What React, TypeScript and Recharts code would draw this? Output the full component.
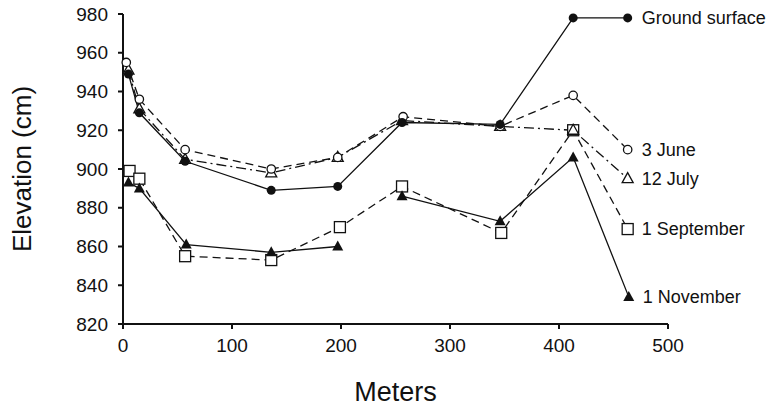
import { LineChart, Line, XAxis, YAxis, Label, LabelList } from "recharts"

const FONT = '"Liberation Sans", Arial, Helvetica, sans-serif'

// distance along the transect (m) and elevation (cm), one pair of arrays per series
const groundX = [5, 15, 57, 136, 197, 256, 346, 413, 463]
const groundY = [949, 929, 904, 889, 891, 924, 923, 978, 978]

const juneX = [3, 15, 57, 136, 197, 257, 346, 413, 463]
const juneY = [955, 936, 910, 900, 906, 927, 922, 938, 910]

const julyX = [5, 15, 57, 136, 197, 256, 346, 413, 463]
const julyY = [951, 931, 905, 898, 906, 925, 922, 920, 895]

const septX = [6, 15, 57, 136, 199, 256, 347, 413, 463]
const septY = [899, 895, 855, 853, 870, 891, 867, 920, 869]

// november line is broken between 197 m and 256 m
const novX = [5, 15, 58, 136, 197, 256, 346, 413, 464]
const novY = [893, 890, 861, 857, 860, 886, 873, 906, 834]
const novBreak = 5

const xTicks = [0, 100, 200, 300, 400, 500]
const yTicks = [820, 840, 860, 880, 900, 920, 940, 960, 980]

const toPoints = (xs: number[], ys: number[]) => xs.map((x, i) => ({ x, y: ys[i] }))

const ground = toPoints(groundX, groundY)
const june = toPoints(juneX, juneY)
const july = toPoints(julyX, julyY)
const sept = toPoints(septX, septY)
const novAll = toPoints(novX, novY)
const novA = novAll.slice(0, novBreak)
const novB = novAll.slice(novBreak)

const SW = 1.3

const filledCircle = (p: any) =>
  p.cx == null ? <g key={`fc-${p.index}`} /> : <circle key={`fc-${p.index}`} cx={p.cx} cy={p.cy} r={4.5} fill="#111" />

const openCircle = (p: any) =>
  p.cx == null ? <g key={`oc-${p.index}`} /> : (
    <circle key={`oc-${p.index}`} cx={p.cx} cy={p.cy} r={4.2} fill="#fff" stroke="#111" strokeWidth={SW} />
  )

const triPts = (cx: number, cy: number) => `${cx},${cy - 6} ${cx - 5.5},${cy + 4} ${cx + 5.5},${cy + 4}`

const openTri = (p: any) =>
  p.cx == null ? <g key={`ot-${p.index}`} /> : (
    <polygon key={`ot-${p.index}`} points={triPts(p.cx, p.cy)} fill="#fff" stroke="#111" strokeWidth={SW} />
  )

const filledTri = (p: any) =>
  p.cx == null ? <g key={`ft-${p.index}`} /> : <polygon key={`ft-${p.index}`} points={triPts(p.cx, p.cy)} fill="#111" />

const openSquare = (p: any) =>
  p.cx == null ? <g key={`os-${p.index}`} /> : (
    <rect key={`os-${p.index}`} x={p.cx - 5.5} y={p.cy - 5.5} width={11} height={11} fill="#fff" stroke="#111" strokeWidth={SW} />
  )

const endLabel = (name: string, last: number) => (p: any) =>
  p.index === last ? (
    <text x={p.x + 14} y={p.y} dominantBaseline="central" fontSize={18} fontFamily={FONT} fill="#111">
      {name}
    </text>
  ) : null

export default function App() {
  return (
    <div style={{ position: "absolute", left: 0, top: 0, background: "#fff" }}>
      <LineChart width={776} height={413} margin={{ top: 14, right: 108, bottom: 0, left: 0 }}>
        <XAxis
          dataKey="x"
          type="number"
          domain={[0, 500]}
          ticks={xTicks}
          height={89}
          tickSize={5}
          tickMargin={10}
          stroke="#111"
          strokeWidth={2}
          tick={{ fontSize: 19, fontFamily: FONT, fill: "#111" }}
          allowDuplicatedCategory={false}
        >
          <Label value="Meters" position="insideBottom" offset={12} fontSize={27} fontFamily={FONT} fill="#111" />
        </XAxis>
        <YAxis
          dataKey="y"
          type="number"
          domain={[820, 980]}
          ticks={yTicks}
          width={123}
          tickSize={5}
          tickMargin={10}
          stroke="#111"
          strokeWidth={2}
          tick={{ fontSize: 19, fontFamily: FONT, fill: "#111" }}
        >
          <Label
            value="Elevation (cm)"
            angle={-90}
            position="insideLeft"
            offset={22}
            style={{ textAnchor: "middle" }}
            fontSize={26}
            fontFamily={FONT}
            fill="#111"
          />
        </YAxis>

        <Line data={sept} dataKey="y" stroke="#111" strokeWidth={SW} strokeDasharray="8 5" dot={openSquare} isAnimationActive={false}>
          <LabelList dataKey="y" content={endLabel("1 September", sept.length - 1)} />
        </Line>
        <Line data={july} dataKey="y" stroke="#111" strokeWidth={SW} strokeDasharray="10 4 2 4" dot={openTri} isAnimationActive={false}>
          <LabelList dataKey="y" content={endLabel("12 July", july.length - 1)} />
        </Line>
        <Line data={june} dataKey="y" stroke="#111" strokeWidth={SW} strokeDasharray="8 5" dot={openCircle} isAnimationActive={false}>
          <LabelList dataKey="y" content={endLabel("3 June", june.length - 1)} />
        </Line>
        <Line data={novA} dataKey="y" stroke="#111" strokeWidth={SW} dot={filledTri} isAnimationActive={false} />
        <Line data={novB} dataKey="y" stroke="#111" strokeWidth={SW} dot={filledTri} isAnimationActive={false}>
          <LabelList dataKey="y" content={endLabel("1 November", novB.length - 1)} />
        </Line>
        <Line data={ground} dataKey="y" stroke="#111" strokeWidth={SW} dot={filledCircle} isAnimationActive={false}>
          <LabelList dataKey="y" content={endLabel("Ground surface", ground.length - 1)} />
        </Line>
      </LineChart>
    </div>
  )
}
